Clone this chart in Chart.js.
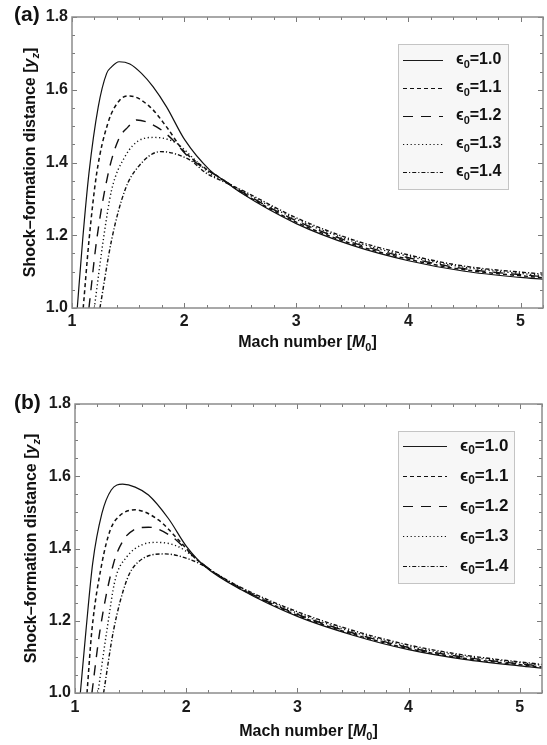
<!DOCTYPE html>
<html>
<head>
<title>Shock-formation distance</title>
<script src="https://cdn.jsdelivr.net/npm/chart.js"></script>
<style>
  body { margin: 0; background: #fff; }
  canvas { position: absolute; left: 0; }
</style>
</head>
<body>
<canvas id="chartA" width="547" height="372" style="top:0"></canvas>
<canvas id="chartB" width="547" height="373" style="top:372px"></canvas>
<script>
const epsLabels = ['1.0', '1.1', '1.2', '1.3', '1.4'];
const xMajor = [1, 2, 3, 4, 5];
const yMajor = [1.0, 1.2, 1.4, 1.6, 1.8];

// panel (a): Mach number and shock-formation distance, one pair per epsilon
const aM10 = [1.047, 1.095, 1.151, 1.234, 1.309, 1.353, 1.42, 1.516, 1.62, 1.724, 1.843, 2.006, 2.229, 2.347, 2.5, 3.0, 3.5, 4.0, 4.5, 5.0, 5.2];
const aY10 = [1.0, 1.187, 1.370, 1.553, 1.645, 1.663, 1.677, 1.671, 1.645, 1.608, 1.553, 1.462, 1.379, 1.352, 1.318, 1.232, 1.172, 1.130, 1.101, 1.084, 1.079];
const aM11 = [1.10, 1.152, 1.22, 1.32, 1.427, 1.516, 1.695, 1.843, 1.99, 2.17, 2.3, 2.5, 3.0, 3.5, 4.0, 4.5, 5.2];
const aY11 = [1.0, 1.187, 1.370, 1.508, 1.572, 1.583, 1.553, 1.498, 1.434, 1.388, 1.362, 1.320, 1.236, 1.176, 1.134, 1.105, 1.083];
const aM12 = [1.151, 1.22, 1.323, 1.413, 1.50, 1.576, 1.754, 1.90, 2.036, 2.2, 2.33, 2.5, 3.0, 3.5, 4.0, 4.5, 5.2];
const aY12 = [1.0, 1.187, 1.370, 1.462, 1.498, 1.517, 1.498, 1.462, 1.416, 1.380, 1.356, 1.322, 1.240, 1.180, 1.138, 1.108, 1.086];
const aM13 = [1.199, 1.279, 1.353, 1.472, 1.606, 1.739, 1.932, 2.08, 2.229, 2.35, 2.5, 3.0, 3.5, 4.0, 4.5, 5.2];
const aY13 = [1.0, 1.187, 1.324, 1.416, 1.462, 1.469, 1.453, 1.412, 1.370, 1.350, 1.324, 1.244, 1.184, 1.142, 1.112, 1.089];
const aM14 = [1.249, 1.353, 1.472, 1.59, 1.79, 2.05, 2.20, 2.318, 2.5, 3.0, 3.5, 4.0, 4.5, 5.2];
const aY14 = [1.0, 1.187, 1.324, 1.388, 1.430, 1.407, 1.370, 1.352, 1.326, 1.248, 1.188, 1.146, 1.115, 1.093];

// panel (b)
const bM10 = [1.048, 1.099, 1.159, 1.242, 1.326, 1.428, 1.541, 1.661, 1.840, 2.004, 2.169, 2.5, 3.0, 3.5, 4.0, 4.5, 5.0, 5.2];
const bY10 = [1.0, 1.174, 1.359, 1.497, 1.562, 1.578, 1.570, 1.548, 1.483, 1.405, 1.350, 1.285, 1.212, 1.160, 1.120, 1.093, 1.075, 1.069];
const bM11 = [1.108, 1.152, 1.242, 1.317, 1.392, 1.541, 1.75, 1.93, 2.079, 2.2, 2.5, 3.0, 3.5, 4.0, 4.5, 5.2];
const bY11 = [1.0, 1.174, 1.359, 1.451, 1.488, 1.507, 1.479, 1.424, 1.374, 1.344, 1.287, 1.215, 1.163, 1.123, 1.096, 1.072];
const bM12 = [1.152, 1.225, 1.347, 1.437, 1.526, 1.661, 1.87, 2.004, 2.2, 2.5, 3.0, 3.5, 4.0, 4.5, 5.2];
const bY12 = [1.0, 1.174, 1.359, 1.424, 1.451, 1.459, 1.433, 1.396, 1.345, 1.288, 1.218, 1.166, 1.126, 1.099, 1.074];
const bM13 = [1.206, 1.287, 1.361, 1.466, 1.601, 1.735, 1.93, 2.139, 2.25, 2.5, 3.0, 3.5, 4.0, 4.5, 5.2];
const bY13 = [1.0, 1.174, 1.313, 1.377, 1.410, 1.417, 1.405, 1.359, 1.334, 1.290, 1.221, 1.169, 1.129, 1.102, 1.077];
const bM14 = [1.257, 1.347, 1.466, 1.556, 1.81, 2.049, 2.169, 2.3, 2.5, 3.0, 3.5, 4.0, 4.5, 5.2];
const bY14 = [1.0, 1.174, 1.313, 1.359, 1.385, 1.368, 1.350, 1.325, 1.291, 1.225, 1.173, 1.133, 1.105, 1.079];

const styles = [
  { dash: [], width: 1.2 },
  { dash: [4, 3], width: 1.5 },
  { dash: [10, 8], width: 1.4 },
  { dash: [1.2, 2.6], width: 1.4 },
  { dash: [4, 2, 1.2, 2], width: 1.4 }
];

const FAMILY = '"Liberation Sans", Arial, "DejaVu Sans", sans-serif';

function isMajor(v, list) {
  return list.some(t => Math.abs(t - v) < 1e-6);
}

// draws text pieces (normal / italic / subscript) centred on x
function drawRich(ctx, parts, x, y, size) {
  const fontOf = p => (p.italic ? 'italic ' : '') + 'bold ' + (p.sub ? Math.round(size * 0.68) : size) + 'px ' + FAMILY;
  let total = 0;
  parts.forEach(p => { ctx.font = fontOf(p); total += ctx.measureText(p.t).width; });
  let cx = x - total / 2;
  ctx.textAlign = 'left';
  ctx.textBaseline = 'middle';
  parts.forEach(p => {
    ctx.font = fontOf(p);
    ctx.fillText(p.t, cx, p.sub ? y + size * 0.28 : y);
    cx += ctx.measureText(p.t).width;
  });
}

function drawLeft(ctx, parts, x, y, size) {
  const fontOf = p => 'bold ' + (p.sub ? Math.round(size * 0.68) : size) + 'px ' + FAMILY;
  let cx = x;
  ctx.textAlign = 'left';
  ctx.textBaseline = 'middle';
  parts.forEach(p => {
    ctx.font = fontOf(p);
    ctx.fillText(p.t, cx, p.sub ? y + size * 0.28 : y);
    cx += ctx.measureText(p.t).width;
  });
}

const framePlugin = {
  id: 'frame',
  afterDatasetsDraw(chart) {
    const { ctx, chartArea: a, scales: { x, y } } = chart;
    ctx.save();
    ctx.strokeStyle = '#7a7a7a';
    ctx.lineWidth = 1;
    ctx.setLineDash([]);
    ctx.beginPath();
    x.ticks.forEach(t => {
      const px = Math.round(x.getPixelForValue(t.value)) + 0.5;
      const len = isMajor(t.value, xMajor) ? 5 : 3;
      ctx.moveTo(px, a.bottom); ctx.lineTo(px, a.bottom - len);
      ctx.moveTo(px, a.top); ctx.lineTo(px, a.top + len);
    });
    y.ticks.forEach(t => {
      const py = Math.round(y.getPixelForValue(t.value)) + 0.5;
      const len = isMajor(t.value, yMajor) ? 5 : 3;
      ctx.moveTo(a.left, py); ctx.lineTo(a.left + len, py);
      ctx.moveTo(a.right, py); ctx.lineTo(a.right - len, py);
    });
    ctx.stroke();
    ctx.strokeStyle = '#8c8c8c';
    ctx.lineWidth = 1.5;
    ctx.strokeRect(a.left, a.top, a.right - a.left, a.bottom - a.top);
    ctx.restore();
  },
  afterDraw(chart) {
    const lay = chart.options.plugins.frame;
    const { ctx, chartArea: a } = chart;
    ctx.save();
    ctx.fillStyle = '#111';

    // panel label
    ctx.font = 'bold 21px ' + FAMILY;
    ctx.textAlign = 'left';
    ctx.textBaseline = 'middle';
    ctx.fillText(lay.panel, 14, lay.panelY);

    // axis titles
    drawRich(ctx, [{ t: 'Mach number [' }, { t: 'M', italic: true }, { t: '0', sub: true }, { t: ']' }],
      (a.left + a.right) / 2, lay.xTitleY, 16);
    ctx.save();
    ctx.translate(lay.yTitleX, (a.top + a.bottom) / 2);
    ctx.rotate(-Math.PI / 2);
    drawRich(ctx, [{ t: 'Shock\u2013formation distance [' }, { t: 'y', italic: true }, { t: 'z', italic: true, sub: true }, { t: ']' }],
      0, 0, 16);
    ctx.restore();

    // legend
    const L = lay.legend;
    ctx.fillStyle = '#f7f7f7';
    ctx.fillRect(L.x, L.y, L.w, L.h);
    ctx.strokeStyle = '#c4c4c4';
    ctx.lineWidth = 1;
    ctx.strokeRect(L.x + 0.5, L.y + 0.5, L.w, L.h);
    chart.data.datasets.forEach((ds, i) => {
      const ry = L.row0 + i * L.step;
      ctx.strokeStyle = ds.borderColor;
      ctx.lineWidth = ds.borderWidth * 0.8;
      ctx.setLineDash(ds.borderDash);
      ctx.beginPath();
      ctx.moveTo(L.lineX0, ry + 0.5);
      ctx.lineTo(L.lineX1, ry + 0.5);
      ctx.stroke();
      ctx.setLineDash([]);
      ctx.fillStyle = '#111';
      drawLeft(ctx, [{ t: '\u03F5' }, { t: '0', sub: true }, { t: '=' + epsLabels[i] }], L.textX, ry, L.font);
    });
    ctx.restore();
  }
};

function makeChart(id, mSeries, ySeries, lay) {
  const datasets = epsLabels.map((e, i) => ({
    label: '\u03F50=' + e,
    data: mSeries[i].map((m, k) => ({ x: m, y: ySeries[i][k] })),
    showLine: true,
    borderColor: '#111',
    borderWidth: styles[i].width,
    borderDash: styles[i].dash,
    pointRadius: 0,
    fill: false,
    cubicInterpolationMode: 'monotone'
  }));
  return new Chart(document.getElementById(id), {
    type: 'scatter',
    data: { datasets },
    options: {
      responsive: false,
      animation: false,
      layout: { padding: { top: lay.padTop, right: 4, left: 0, bottom: 0 } },
      plugins: {
        legend: { display: false },
        tooltip: { enabled: false },
        frame: lay
      },
      scales: {
        x: {
          type: 'linear', min: 1, max: 5.2,
          grid: { display: false, drawTicks: false },
          border: { display: false },
          ticks: {
            stepSize: 0.2, autoSkip: false, maxRotation: 0, padding: lay.xTickPad,
            color: '#1a1a1a', font: { family: FAMILY, size: 16, weight: 'bold' },
            callback: v => isMajor(v, xMajor) ? String(Math.round(v)) : ''
          },
          afterFit: s => { s.height = lay.xAxisHeight; }
        },
        y: {
          type: 'linear', min: 1, max: 1.8,
          grid: { display: false, drawTicks: false },
          border: { display: false },
          ticks: {
            stepSize: 0.05, autoSkip: false, padding: 4,
            color: '#1a1a1a', font: { family: FAMILY, size: 16, weight: 'bold' },
            callback: v => isMajor(v, yMajor) ? v.toFixed(1) : ''
          },
          afterFit: s => { s.width = lay.yAxisWidth; }
        }
      }
    },
    plugins: [framePlugin]
  });
}

makeChart('chartA',
  [aM10, aM11, aM12, aM13, aM14],
  [aY10, aY11, aY12, aY13, aY14],
  {
    padTop: 17, yAxisWidth: 72, xAxisHeight: 64, xTickPad: 4,
    panel: '(a)', panelY: 15, yTitleX: 31, xTitleY: 343,
    legend: { x: 398, y: 44, w: 110, h: 145, row0: 60, step: 28, lineX0: 403, lineX1: 443, textX: 456, font: 16 }
  });

makeChart('chartB',
  [bM10, bM11, bM12, bM13, bM14],
  [bY10, bY11, bY12, bY13, bY14],
  {
    padTop: 32, yAxisWidth: 75, xAxisHeight: 52, xTickPad: 5,
    panel: '(b)', panelY: 31.5, yTitleX: 32, xTitleY: 360,
    legend: { x: 398, y: 59, w: 116, h: 152, row0: 74, step: 30, lineX0: 403, lineX1: 447, textX: 460, font: 17 }
  });
</script>
</body>
</html>
